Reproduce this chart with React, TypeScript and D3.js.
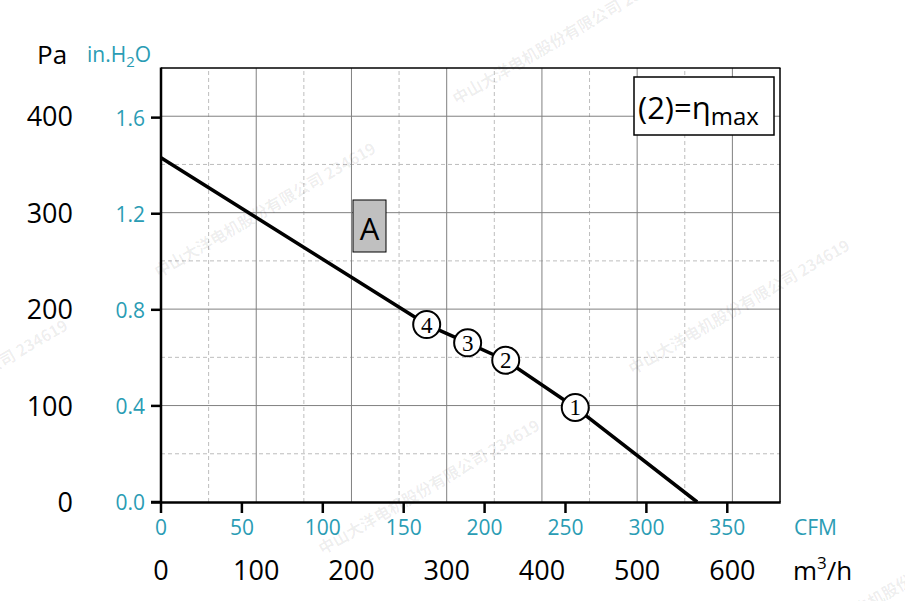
import React from "react";
import * as d3 from "d3";

// Curve data: airflow (m³/h) vs static pressure (Pa)
const curveFlow = [0, 100, 200, 279, 322, 362, 435, 563];
const curvePa = [357, 295, 233, 184, 165, 147, 98, 0];

// Operating points
const pointLabels = ["4", "3", "2", "1"];
const pointFlow = [279, 322, 362, 435];
const pointPa = [184, 165, 147, 98];

const paTicks = [0, 100, 200, 300, 400];
const inH2OTicks = [0.0, 0.4, 0.8, 1.2, 1.6];
const m3hTicks = [0, 100, 200, 300, 400, 500, 600];
const cfmTicks = [0, 50, 100, 150, 200, 250, 300, 350];
const paMinor = [50, 150, 250, 350];
const m3hMinor = [50, 150, 250, 350, 450, 550];

const watermarkCenters: [number, number][] = [
  [268, 215],
  [432, 492],
  [742, 312],
  [566, 42],
  [-40, 392],
  [912, 585],
];

const TEAL = "#2a9cb4";
const FONT = "'Open Sans', 'Noto Sans', sans-serif";

export default function App() {
  const x = d3.scaleLinear().domain([0, 650]).range([161, 780]);
  const y = d3.scaleLinear().domain([0, 450]).range([502, 68]);
  const xc = d3.scaleLinear().domain([0, 650 / 1.699]).range([161, 780]);
  const yi = d3.scaleLinear().domain([0, 450 / 249.09]).range([502, 68]);

  const curveData = curveFlow.map((f, i) => [f, curvePa[i]] as [number, number]);
  const line = d3
    .line<[number, number]>()
    .x((d) => x(d[0]))
    .y((d) => y(d[1]));

  return (
    <svg width={905} height={601} style={{ position: "absolute", left: 0, top: 0, background: "#fff" }} fontFamily={FONT}>
      <rect x={0} y={0} width={905} height={601} fill="#fff" />
      {/* minor grid */}
      {paMinor.map((v) => (
        <line key={"pm" + v} x1={x(0)} x2={x(650)} y1={y(v)} y2={y(v)} stroke="#bdbdbd" strokeWidth={1} strokeDasharray="4,3" />
      ))}
      {m3hMinor.map((v) => (
        <line key={"xm" + v} x1={x(v)} x2={x(v)} y1={y(0)} y2={y(450)} stroke="#bdbdbd" strokeWidth={1} strokeDasharray="4,3" />
      ))}
      {/* major grid */}
      {paTicks.slice(1).map((v) => (
        <line key={"pM" + v} x1={x(0)} x2={x(650)} y1={y(v)} y2={y(v)} stroke="#808080" strokeWidth={1} />
      ))}
      {m3hTicks.slice(1).map((v) => (
        <line key={"xM" + v} x1={x(v)} x2={x(v)} y1={y(0)} y2={y(450)} stroke="#808080" strokeWidth={1} />
      ))}

      {/* watermarks */}
      {watermarkCenters.map(([cx, cy], i) => (
        <text
          key={"wm" + i}
          x={cx}
          y={cy}
          transform={`rotate(-30 ${cx} ${cy})`}
          textAnchor="middle"
          fontSize={16}
          fontWeight="bold"
          fill="#000"
          fillOpacity={0.07}
          fontFamily="'Noto Sans CJK SC', sans-serif"
        >
          中山大洋电机股份有限公司 234619
        </text>
      ))}

      {/* frame */}
      <line x1={x(0)} x2={x(650) + 0.5} y1={y(450)} y2={y(450)} stroke="#000" strokeWidth={1.5} />
      <line x1={x(650)} x2={x(650)} y1={y(450)} y2={y(0)} stroke="#000" strokeWidth={1.5} />
      <line x1={x(0)} x2={x(0)} y1={y(450) - 0.5} y2={y(0)} stroke="#000" strokeWidth={2.5} />
      <line x1={151} x2={x(650) + 0.75} y1={y(0) + 0.5} y2={y(0) + 0.5} stroke="#000" strokeWidth={2.5} />

      {/* in.H2O ticks */}
      {inH2OTicks.map((v) => (
        <line key={"it" + v} x1={151} x2={x(0)} y1={yi(v)} y2={yi(v)} stroke="#000" strokeWidth={2.5} />
      ))}
      {/* CFM ticks */}
      {cfmTicks.map((v) => (
        <line key={"ct" + v} x1={xc(v)} x2={xc(v)} y1={y(0)} y2={y(0) + 11} stroke="#000" strokeWidth={2.5} />
      ))}

      {/* curve */}
      <path d={line(curveData) || ""} fill="none" stroke="#000" strokeWidth={3.5} strokeLinejoin="round" />

      {/* operating points */}
      {pointLabels.map((lab, i) => (
        <g key={"pt" + lab}>
          <circle cx={x(pointFlow[i])} cy={y(pointPa[i])} r={13.5} fill="#fff" stroke="#000" strokeWidth={2} />
          <text
            x={x(pointFlow[i])}
            y={y(pointPa[i]) + 8}
            textAnchor="middle"
            fontSize={23}
            fontFamily="'Liberation Serif', 'DejaVu Serif', serif"
            fill="#000"
          >
            {lab}
          </text>
        </g>
      ))}

      {/* A box */}
      <rect x={353} y={200} width={33} height={52} fill="#c0c0c0" stroke="#000" strokeWidth={1} />
      <text x={369.5} y={240} textAnchor="middle" fontSize={31} fill="#000">
        A
      </text>

      {/* legend box */}
      <rect x={634} y={77} width={140} height={58} fill="#fff" stroke="#000" strokeWidth={1.5} />
      <text x={638} y={119} fontSize={31} fill="#000">
        (2)=η
        <tspan fontSize={24} dy={6}>
          max
        </tspan>
      </text>

      {/* Pa axis labels */}
      {paTicks.map((v) => (
        <text key={"pl" + v} x={73} y={y(v) + 10} textAnchor="end" fontSize={27} fill="#000">
          {v}
        </text>
      ))}
      {/* in.H2O labels */}
      {inH2OTicks.map((v) => (
        <text key={"il" + v} x={145} y={yi(v) + 8} textAnchor="end" fontSize={21} fill={TEAL}>
          {v.toFixed(1)}
        </text>
      ))}
      {/* CFM labels */}
      {cfmTicks.map((v) => (
        <text key={"cl" + v} x={xc(v)} y={535} textAnchor="middle" fontSize={21} fill={TEAL}>
          {v}
        </text>
      ))}
      {/* m3/h labels */}
      {m3hTicks.map((v) => (
        <text key={"ml" + v} x={x(v)} y={580} textAnchor="middle" fontSize={27} fill="#000">
          {v}
        </text>
      ))}

      {/* units */}
      <text x={37} y={64} fontSize={26} fill="#000">
        Pa
      </text>
      <text x={87} y={62} fontSize={21} fill={TEAL}>
        in.H
        <tspan fontSize={15} dy={5}>
          2
        </tspan>
        <tspan dy={-5}>O</tspan>
      </text>
      <text x={794} y={535} fontSize={21} fill={TEAL}>
        CFM
      </text>
      <text x={793} y={580} fontSize={26} fill="#000">
        m
        <tspan fontSize={17} dy={-11}>
          3
        </tspan>
        <tspan dy={11}>/h</tspan>
      </text>
    </svg>
  );
}
